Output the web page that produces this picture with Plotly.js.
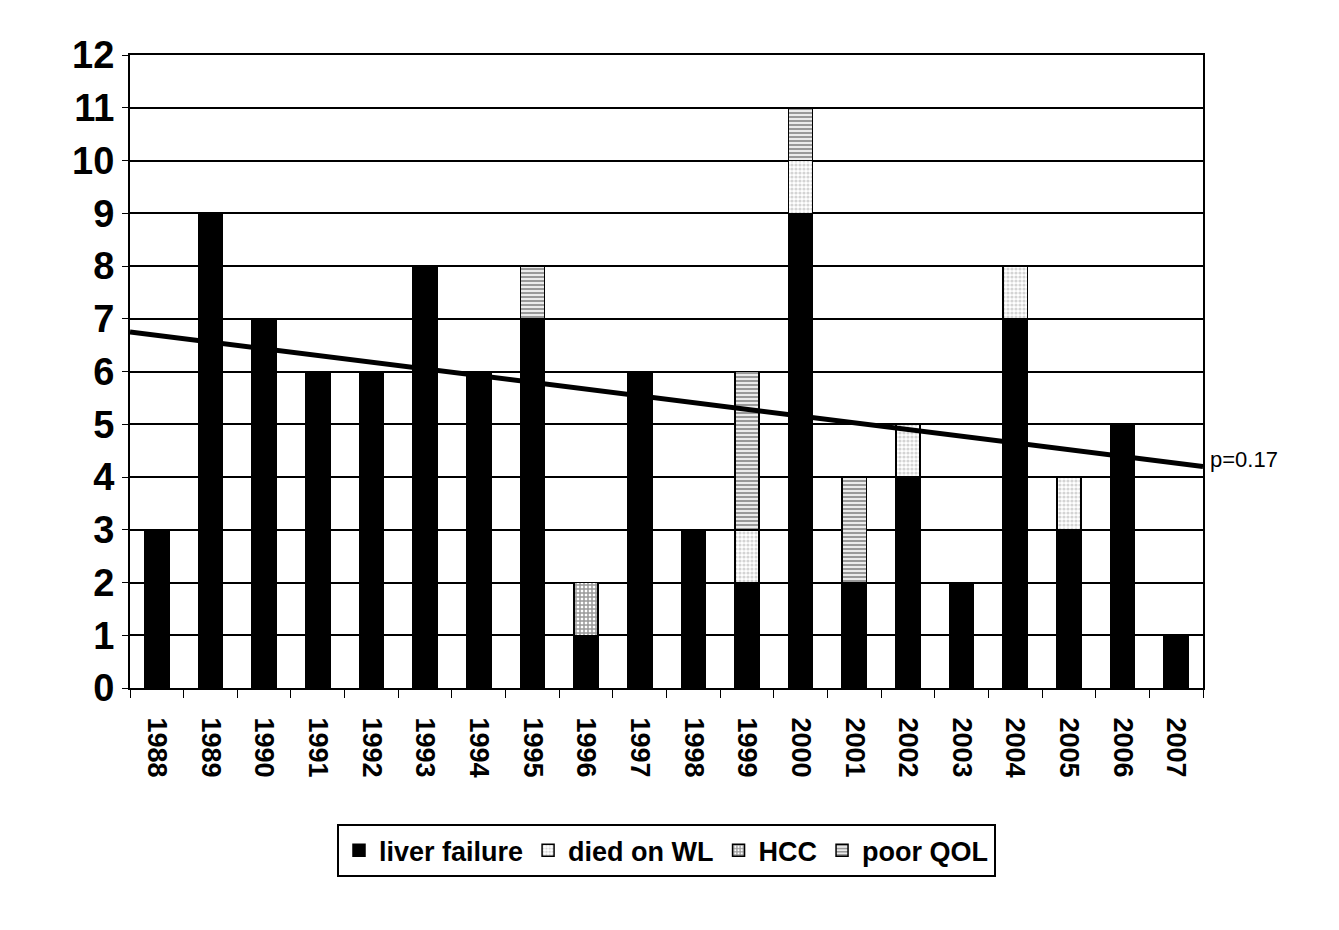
<!DOCTYPE html>
<html>
<head>
<meta charset="utf-8">
<script src="https://cdn.plot.ly/plotly-3.0.1.min.js"></script>
<style>body{margin:0;background:#fff}#chart{width:1339px;height:930px}</style>
</head>
<body>
<div id="chart"></div>
<script>
var years = ['1988','1989','1990','1991','1992','1993','1994','1995','1996','1997',
             '1998','1999','2000','2001','2002','2003','2004','2005','2006','2007'];
var liverFailure = [3, 9, 7, 6, 6, 8, 6, 7, 1, 6, 3, 2, 9, 2, 4, 2, 7, 3, 5, 1];
var diedOnWL     = [0, 0, 0, 0, 0, 0, 0, 0, 0, 0, 0, 1, 1, 0, 1, 0, 1, 1, 0, 0];
var hcc          = [0, 0, 0, 0, 0, 0, 0, 0, 1, 0, 0, 0, 0, 0, 0, 0, 0, 0, 0, 0];
var poorQOL      = [0, 0, 0, 0, 0, 0, 0, 1, 0, 0, 0, 3, 1, 2, 0, 0, 0, 0, 0, 0];
var trendX = [-0.5, 19.5];
var trendY = [6.75, 4.2];

function barTrace(name, vals, shape, fg, sol) {
  var t = {
    x: years, y: vals, name: name, type: 'bar', width: 0.45,
    marker: {color: '#000', line: {color: '#000', width: 1.5}}
  };
  if (shape) {
    t.marker.color = '#fff';
    t.marker.pattern = {shape: shape, fgcolor: fg, bgcolor: '#fff', size: 4, solidity: sol, fillmode: 'overlay'};
  }
  return t;
}

var data = [
  barTrace('liver failure', liverFailure),
  barTrace('died on WL', diedOnWL, '.', '#aaa', 0.5),
  barTrace('HCC', hcc, '+', '#333', 0.6),
  barTrace('poor QOL', poorQOL, '-', '#333', 0.6),
  {x: trendX, y: trendY, xaxis: 'x2', mode: 'lines', line: {color: '#000', width: 5},
   showlegend: false, hoverinfo: 'skip'}
];

var layout = {
  barmode: 'stack',
  width: 1339, height: 930,
  margin: {l: 130, r: 136, t: 55, b: 242},
  paper_bgcolor: '#fff', plot_bgcolor: '#fff',
  font: {family: 'Liberation Sans, Arial, sans-serif', color: '#000'},
  xaxis: {
    type: 'category', tickson: 'boundaries', ticks: 'outside', ticklen: 8, tickcolor: '#000',
    tickangle: 90, tickfont: {size: 27, family: 'Liberation Sans', weight: 'bold'},
    ticklabelstandoff: 22,
    showline: true, linecolor: '#000', linewidth: 2, mirror: true, showgrid: false,
    range: [-0.5, 19.5]
  },
  xaxis2: {overlaying: 'x', range: [-0.5, 19.5], visible: false},
  yaxis: {
    range: [0, 12], dtick: 1, ticks: 'outside', ticklen: 6, tickcolor: '#000',
    tickfont: {size: 38, weight: 'bold'},
    showline: true, linecolor: '#000', linewidth: 2, mirror: true,
    gridcolor: '#000', gridwidth: 2, zeroline: false
  },
  legend: {
    orientation: 'h', x: 0.5, xanchor: 'center', y: -0.215, yanchor: 'top',
    bordercolor: '#000', borderwidth: 2, font: {size: 27, weight: 'bold'},
    traceorder: 'normal', itemwidth: 30
  },
  annotations: [{
    xref: 'paper', yref: 'y', x: 1.005, y: 4.05, xanchor: 'left', yanchor: 'bottom',
    text: 'p=0.17', showarrow: false, font: {size: 22}
  }],
  showlegend: true
};

Plotly.newPlot('chart', data, layout, {displayModeBar: false});
</script>
</body>
</html>
